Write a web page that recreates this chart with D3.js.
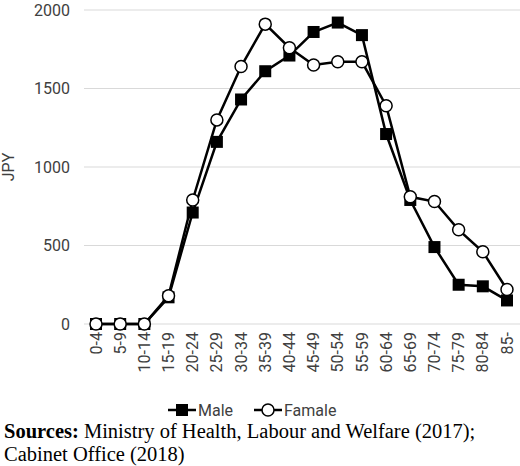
<!DOCTYPE html>
<html><head><meta charset="utf-8">
<script src="https://cdn.jsdelivr.net/npm/d3@7"></script>
<style>body{margin:0;background:#fff}</style>
</head><body>
<div id="chart"></div>
<script>
const ages = ["0-4","5-9","10-14","15-19","20-24","25-29","30-34","35-39","40-44","45-49","50-54","55-59","60-64","65-69","70-74","75-79","80-84","85-"];
const male = [0,0,0,170,710,1160,1430,1610,1710,1860,1920,1840,1210,790,490,250,240,150];
const female = [0,0,0,180,790,1300,1640,1910,1760,1650,1670,1670,1390,810,780,600,460,220];
const yTicks = [0,500,1000,1500,2000];

var width = 520, height = 466;
var svg = d3.select("#chart").append("svg").attr("width", width).attr("height", height);
var font = "Roboto, 'Noto Sans', sans-serif";

var x = d3.scalePoint().domain(ages).range([96, 507]);
var y = d3.scaleLinear().domain([0, 2000]).range([324, 10]);

// grid
svg.selectAll(".grid").data(yTicks).enter().append("line")
  .attr("x1", 84).attr("x2", 520)
  .attr("y1", d => y(d)).attr("y2", d => y(d))
  .attr("stroke", "#d9d9d9").attr("stroke-width", 1);

svg.selectAll(".ylab").data(yTicks).enter().append("text")
  .attr("x", 70).attr("y", d => y(d)).attr("dy", "0.35em")
  .attr("text-anchor", "end").style("font-family", font).style("font-size", "16px")
  .attr("fill", "#404040").text(d => d);

svg.append("text").attr("transform", "translate(14,167) rotate(-90)")
  .attr("text-anchor", "middle").style("font-family", font).style("font-size", "16px")
  .attr("fill", "#404040").text("JPY");

svg.selectAll(".xlab").data(ages).enter().append("text")
  .attr("transform", d => `translate(${x(d)},332) rotate(-90)`)
  .attr("dy", "0.35em").attr("text-anchor", "end")
  .style("font-family", font).style("font-size", "16px").attr("fill", "#404040").text(d => d);

var line = d3.line().x((d, i) => x(ages[i])).y(d => y(d));

svg.append("path").attr("d", line(female)).attr("fill", "none").attr("stroke", "#000").attr("stroke-width", 2.5);
svg.append("path").attr("d", line(male)).attr("fill", "none").attr("stroke", "#000").attr("stroke-width", 2.5);

svg.selectAll(".m").data(male).enter().append("rect")
  .attr("x", (d, i) => x(ages[i]) - 6).attr("y", d => y(d) - 6)
  .attr("width", 12).attr("height", 12).attr("fill", "#000");
svg.selectAll(".f").data(female).enter().append("circle")
  .attr("cx", (d, i) => x(ages[i])).attr("cy", d => y(d)).attr("r", 6)
  .attr("fill", "#fff").attr("stroke", "#000").attr("stroke-width", 1.5);

// legend
var lg = svg.append("g");
lg.append("line").attr("x1", 168).attr("x2", 196).attr("y1", 410).attr("y2", 410).attr("stroke", "#000").attr("stroke-width", 2.5);
lg.append("rect").attr("x", 176).attr("y", 404).attr("width", 12).attr("height", 12);
lg.append("text").attr("x", 198).attr("y", 410).attr("dy", "0.35em").style("font-family", font).style("font-size", "16px").attr("fill", "#404040").text("Male");
lg.append("line").attr("x1", 254).attr("x2", 282).attr("y1", 410).attr("y2", 410).attr("stroke", "#000").attr("stroke-width", 2.5);
lg.append("circle").attr("cx", 268).attr("cy", 410).attr("r", 6).attr("fill", "#fff").attr("stroke", "#000").attr("stroke-width", 1.5);
lg.append("text").attr("x", 284).attr("y", 410).attr("dy", "0.35em").style("font-family", font).style("font-size", "16px").attr("fill", "#404040").text("Famale");

var src = svg.append("text").attr("x", 4).attr("y", 438).style("font-family", "'Liberation Serif', serif").style("font-size", "20.5px");
src.append("tspan").style("font-weight", "bold").text("Sources:");
src.append("tspan").text(" Ministry of Health, Labour and Welfare (2017);");
svg.append("text").attr("x", 4).attr("y", 461).style("font-family", "'Liberation Serif', serif").style("font-size", "20.5px").text("Cabinet Office (2018)");
</script>
</body></html>
